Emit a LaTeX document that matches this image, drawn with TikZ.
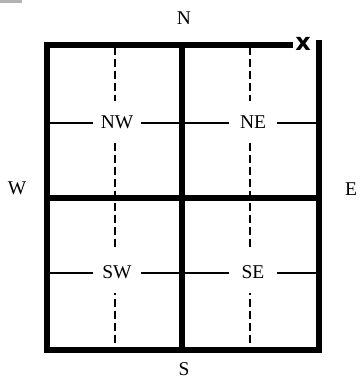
\documentclass[tikz,border=0pt]{standalone}
\usepackage{fontspec}
\setmainfont{Liberation Serif}
\newfontfamily\xfont{DejaVu Sans}
\begin{document}
\begin{tikzpicture}[x=1pt,y=-1pt,
  wall/.style={line width=6pt,line cap=rect},
  thinline/.style={line width=2pt},
  dashline/.style={line width=2pt,dash pattern=on 8pt off 4pt},
  lbl/.style={fill=white,inner sep=0pt,minimum width=48pt,minimum height=42pt,font=\fontsize{19.5}{19.5}\selectfont},
  compass/.style={inner sep=0pt,font=\fontsize{19.5}{19.5}\selectfont}]
\useasboundingbox (0,0) rectangle (360,379);
\fill[gray!60] (0,0) rectangle (22,3);
% corner coordinates
\coordinate (tl) at (47,45);
\coordinate (tr) at (319,45);
\coordinate (bl) at (47,350);
\coordinate (br) at (319,350);
\coordinate (topend) at (290,45);
\coordinate (rtop) at (319,43);
\coordinate (mt) at (182,45);
\coordinate (mb) at (182,350);
\coordinate (ml) at (47,198);
\coordinate (mr) at (319,198);
% thin and dashed lines
\draw[dashline] (115,47) -- (115,350);
\draw[dashline] (250,47) -- (250,350);
\draw[thinline] (47,123) -- (319,123);
\draw[thinline] (47,273) -- (319,273);
% labels
\node[lbl] (nw) at (117,122) {NW};
\node[lbl] (ne) at (253,122) {NE};
\node[lbl] (sw) at (117,272) {SW};
\node[lbl] (se) at (253,272) {SE};
% walls
\draw[wall] (topend) -- (tl) -- (bl) -- (br) -- (rtop);
\draw[wall] (mt) -- (mb);
\draw[wall] (ml) -- (mr);
% compass labels
\node[compass] (n) at (184,18) {N};
\node[compass] (s) at (184,369) {S};
\node[compass] (w) at (17,188) {W};
\node[compass] (e) at (351,189) {E};
\node[inner sep=0pt,font=\xfont\bfseries\fontsize{24}{24}\selectfont] (x) at (303,44) {x};
\end{tikzpicture}
\end{document}
